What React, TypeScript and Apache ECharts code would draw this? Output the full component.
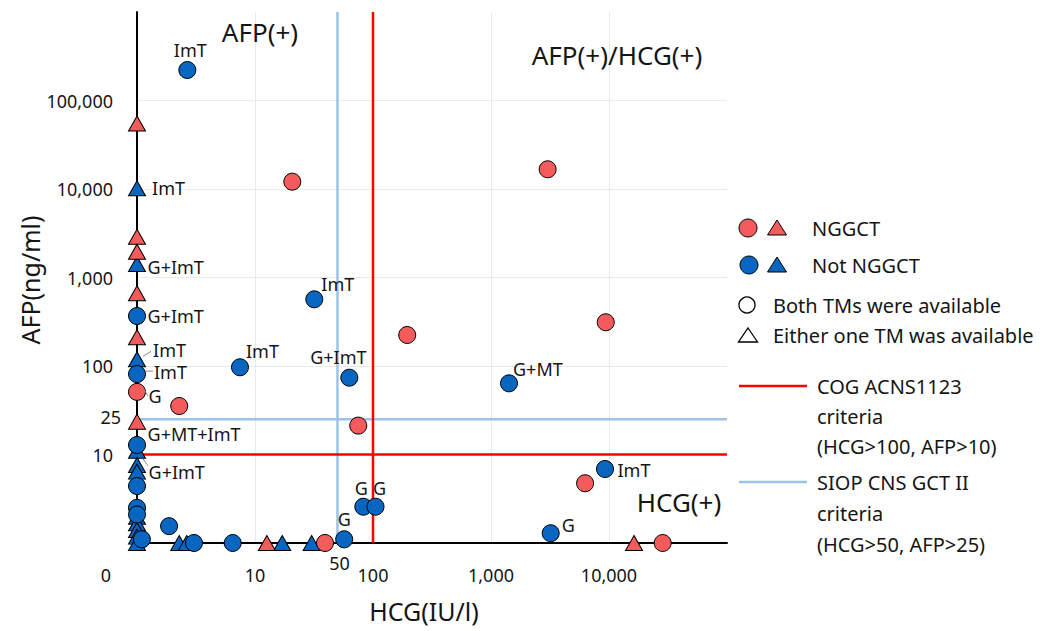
import React, { useEffect, useRef } from 'react';
import * as echarts from 'echarts';

// ---------- data (0 = below detection, drawn on the axis) ----------
// NGGCT, both tumour markers available (circles)
const ngCircleHCG = [0, 2.28, 20.7, 3020, 195, 9380, 75, 6270, 39.2, 28500];
const ngCircleAFP = [51, 35.3, 12100, 16700, 224, 312, 21.2, 4.73, 0, 0];
const ngCircleTag = ['G', '', '', '', '', '', '', '', '', ''];

// NGGCT, either one TM available (triangles)
const ngTriHCG = [0, 0, 0, 0, 0, 0, 12.6, 16300];
const ngTriAFP = [55000, 2890, 1958, 663, 211, 23.5, 0, 0];
const ngTriTag = ['', '', '', '', '', 'G+MT+ImT', '', ''];

// Not NGGCT, both TMs available (circles)
const nnCircleHCG = [2.67, 0, 0, 7.46, 31.8, 63, 1421, 0, 0, 0, 0, 1.1, 1.87, 3.04, 6.47, 57, 82.8, 105, 3205, 9250];
const nnCircleAFP = [221000, 367, 81, 96.7, 567, 73.8, 63.7, 12.8, 4.4, 2.5, 2.1, 1.1, 1.55, 0, 0, 1.1, 2.57, 2.57, 1.29, 6.86];
const nnCircleTag = ['ImT', 'G+ImT', 'ImT', 'ImT', 'ImT', 'G+ImT', 'G+MT', '', '', '', '', '', '', '', '', 'G', 'G', 'G', 'G', 'ImT'];

// Not NGGCT, either one TM available (triangles)
const nnTriHCG = [0, 0, 0, 0, 0, 0, 0, 0, 0, 0, 0, 2.28, 2.64, 17.0, 30.2];
const nnTriAFP = [10200, 1421, 119, 11, 7.6, 6.4, 1.98, 1.67, 1.4, 1.18, 0, 0, 0, 0, 0];
const nnTriTag = ['ImT', 'G+ImT', 'ImT', 'G+ImT', '', '', '', '', '', '', '', '', '', '', ''];

// criteria thresholds
const cogHCG = 100;
const cogAFP = 10;
const siopHCG = 50;
const siopAFP = 25;

// axis ranges
const xMin = 1;
const xMax = 100000;
const yMin = 1;
const yMax = 1000000;

// ---------- styles ----------
const FONT = '"Noto Sans", "Open Sans", sans-serif';
const RED = '#F45B5B';
const BLUE = '#0866C0';
const RED_LINE = '#FF0000';
const BLUE_LINE = '#9DC3E6';
const TXT = '#151515';

// label placement per point: [position, distance, dx, dy]
type Place = [string, number, number, number] | null;
const ngCirclePlace: Place[] = [['right', 2.5, 0, 4], null, null, null, null, null, null, null, null, null];
const ngTriPlace: Place[] = [null, null, null, null, null, ['right', 1.5, 0, 12], null, null];
const nnCirclePlace: Place[] = [
  ['top', 3, 3, 0],
  ['right', 1.5, 0, 0],
  ['right', 8, 0, -2],
  ['right', 0, -3, -16],
  ['right', 0, -2, -15],
  ['top', 3, -11, 0],
  ['right', 0, -5, -14],
  null, null, null, null, null, null, null, null,
  ['top', 3, 0, 0],
  ['top', 1, -2, 0],
  ['top', 1, 4, 0],
  ['right', 0, 2, -8],
  ['right', 3.5, 0, 1],
];
const nnTriPlace: Place[] = [
  ['right', 6, 0, 0],
  ['right', 1.5, 0, 3],
  ['right', 7, 0, -9],
  ['right', 2.5, 0, 21],
  null, null, null, null, null, null, null, null, null, null, null,
];

const zv = (v: number) => (v <= 0 ? 1 : v);

function buildData(hcg: number[], afp: number[], tags: string[], place: Place[]) {
  return hcg.map((h, i) => {
    const item: any = { value: [zv(h), zv(afp[i])] };
    const p = place[i];
    if (tags[i] && p) {
      item.label = {
        show: true,
        formatter: tags[i],
        position: p[0],
        distance: p[1],
        offset: [p[2], p[3]],
      };
    }
    return item;
  });
}

const fmt = (v: number) => Math.round(v).toLocaleString('en-US');

export default function App() {
  const ref = useRef<HTMLDivElement>(null);

  useEffect(() => {
    if (!ref.current) return;
    const chart = echarts.init(ref.current, undefined, { renderer: 'svg' });

    const labelStyle = { fontSize: 18, lineHeight: 17, color: TXT, fontFamily: FONT };
    const scatterBase = {
      type: 'scatter',
      z: 3,
      label: { show: false, ...labelStyle },
      itemStyle: { borderColor: '#000', borderWidth: 1, opacity: 1 },
      emphasis: { disabled: true },
    };

    const option: any = {
      animation: false,
      backgroundColor: '#ffffff',
      grid: { left: 137, right: 329, top: 12, bottom: 88, containLabel: false },
      xAxis: {
        type: 'log',
        logBase: 10,
        min: xMin,
        max: xMax,
        axisLine: { show: true, onZero: false, lineStyle: { color: '#000', width: 2 } },
        axisTick: { show: false },
        splitLine: { show: true, showMinLine: false, showMaxLine: false, lineStyle: { color: '#EAEAEA', width: 1 } },
        axisLabel: {
          margin: 23,
          fontSize: 18,
          color: TXT,
          fontFamily: FONT,
          formatter: (v: number) => (v <= xMin * 1.01 || v >= xMax * 0.99 ? '' : fmt(v)),
        },
      },
      yAxis: {
        type: 'log',
        logBase: 10,
        min: yMin,
        max: yMax,
        axisLine: { show: true, onZero: false, lineStyle: { color: '#000', width: 2 } },
        axisTick: { show: false },
        splitLine: { show: true, showMinLine: false, showMaxLine: false, lineStyle: { color: '#EAEAEA', width: 1 } },
        axisLabel: {
          margin: 24,
          fontSize: 18,
          color: TXT,
          fontFamily: FONT,
          formatter: (v: number) => (v <= yMin * 1.01 || v >= yMax * 0.99 ? '' : fmt(v)),
        },
      },
      series: [
        { type: 'line', silent: true, z: 1, symbol: 'none', data: [[siopHCG, yMin], [siopHCG, yMax]], lineStyle: { color: BLUE_LINE, width: 2.5 } },
        { type: 'line', silent: true, z: 1, symbol: 'none', data: [[xMin, siopAFP], [xMax, siopAFP]], lineStyle: { color: BLUE_LINE, width: 2.5 } },
        { type: 'line', silent: true, z: 1, symbol: 'none', data: [[cogHCG, yMin], [cogHCG, yMax]], lineStyle: { color: RED_LINE, width: 2.5 } },
        { type: 'line', silent: true, z: 1, symbol: 'none', data: [[xMin, cogAFP], [xMax, cogAFP]], lineStyle: { color: RED_LINE, width: 2.5 } },
        {
          ...scatterBase,
          name: 'nnTri',
          symbol: 'triangle',
          symbolSize: [17, 15],
          itemStyle: { ...scatterBase.itemStyle, color: BLUE },
          data: buildData(nnTriHCG, nnTriAFP, nnTriTag, nnTriPlace),
        },
        {
          ...scatterBase,
          name: 'nnCircle',
          symbol: 'circle',
          symbolSize: 17,
          itemStyle: { ...scatterBase.itemStyle, color: BLUE },
          data: buildData(nnCircleHCG, nnCircleAFP, nnCircleTag, nnCirclePlace),
        },
        {
          ...scatterBase,
          name: 'ngTri',
          symbol: 'triangle',
          symbolSize: [17, 15],
          itemStyle: { ...scatterBase.itemStyle, color: RED },
          data: buildData(ngTriHCG, ngTriAFP, ngTriTag, ngTriPlace),
        },
        {
          ...scatterBase,
          name: 'ngCircle',
          symbol: 'circle',
          symbolSize: 17,
          itemStyle: { ...scatterBase.itemStyle, color: RED },
          data: buildData(ngCircleHCG, ngCircleAFP, ngCircleTag, ngCirclePlace),
        },
      ],
    };

    chart.setOption(option);

    const px = (x: number, y: number) => chart.convertToPixel({ gridIndex: 0 }, [zv(x), zv(y)]) as number[];
    const txt = (text: string, x: number, y: number, size: number, align = 'left', extra: any = {}) => ({
      type: 'text',
      silent: true,
      z: 10,
      ...extra,
      style: { text, x, y, fill: TXT, fontSize: size, fontFamily: FONT, align, verticalAlign: 'middle' },
    });
    const leader = (x: number, y: number, dx1: number, dy1: number, dx2: number, dy2: number) => {
      const p = px(x, y);
      return {
        type: 'line',
        silent: true,
        z: 10,
        shape: { x1: p[0] + dx1, y1: p[1] + dy1, x2: p[0] + dx2, y2: p[1] + dy2 },
        style: { stroke: '#8a8a8a', lineWidth: 1 },
      };
    };

    const o = px(0, 0);
    const p50 = px(siopHCG, 0);
    const p25 = px(0, siopAFP);

    const legendMarkers = [
      { type: 'circle', shape: { cx: 748, cy: 228, r: 9 }, style: { fill: RED, stroke: '#000', lineWidth: 1 } },
      { type: 'polygon', shape: { points: [[777, 220], [786.5, 235], [767.5, 235]] }, style: { fill: RED, stroke: '#000', lineWidth: 1 } },
      { type: 'circle', shape: { cx: 749, cy: 265, r: 9 }, style: { fill: BLUE, stroke: '#000', lineWidth: 1 } },
      { type: 'polygon', shape: { points: [[777, 257], [786.5, 272], [767.5, 272]] }, style: { fill: BLUE, stroke: '#000', lineWidth: 1 } },
      { type: 'circle', shape: { cx: 747, cy: 305, r: 8 }, style: { fill: '#fff', stroke: '#000', lineWidth: 1.3 } },
      { type: 'polygon', shape: { points: [[748, 328], [757.5, 342], [738.5, 342]] }, style: { fill: '#fff', stroke: '#000', lineWidth: 1.3 } },
      { type: 'line', shape: { x1: 739, y1: 386, x2: 807, y2: 386 }, style: { stroke: RED_LINE, lineWidth: 2.5 } },
      { type: 'line', shape: { x1: 739, y1: 482, x2: 807, y2: 482 }, style: { stroke: BLUE_LINE, lineWidth: 2.5 } },
    ].map((g: any) => ({ ...g, silent: true, z: 10 }));

    chart.setOption({
      graphic: [
        ...legendMarkers,
        txt('NGGCT', 812, 228, 20),
        txt('Not NGGCT', 812, 265, 20),
        txt('Both TMs were available', 773, 305, 20),
        txt('Either one TM was available', 773, 335, 20),
        txt('COG ACNS1123', 817, 386, 20),
        txt('criteria', 817, 416, 20),
        txt('(HCG>100, AFP>10)', 817, 446, 20),
        txt('SIOP CNS GCT II', 817, 482, 20),
        txt('criteria', 817, 513, 20),
        txt('(HCG>50, AFP>25)', 817, 544, 20),
        // quadrant labels
        txt('AFP(+)', 260, 32, 26, 'center'),
        txt('AFP(+)/HCG(+)', 617, 55, 26, 'center'),
        txt('HCG(+)', 679, 502, 26, 'center'),
        // axis names
        txt('HCG(IU/l)', 424, 611, 25, 'center'),
        {
          type: 'text',
          silent: true,
          z: 10,
          x: 30,
          y: 280,
          rotation: Math.PI / 2,
          style: { text: 'AFP(ng/ml)', x: 0, y: 0, fill: TXT, fontSize: 25, fontFamily: FONT, align: 'center', verticalAlign: 'middle' },
        },
        // extra tick labels
        txt('0', o[0] - 31, o[1] + 32, 18, 'center'),
        txt('50', p50[0] + 2, p50[1] + 20, 18, 'center'),
        txt('25', p25[0] - 16, p25[1] - 2, 18, 'right'),
        // leader lines
        leader(0, 119, 6, -3, 14, -8),
        leader(0, 81, 8, -3, 16, -3),
        leader(0, 51, 6, -4, 11, 4),
        leader(0, 11, 6, 8, 11, 15),
      ],
    });

    return () => chart.dispose();
  }, []);

  return (
    <div
      ref={ref}
      style={{ position: 'fixed', left: 0, top: 0, width: 1056, height: 631, background: '#fff' }}
    />
  );
}
